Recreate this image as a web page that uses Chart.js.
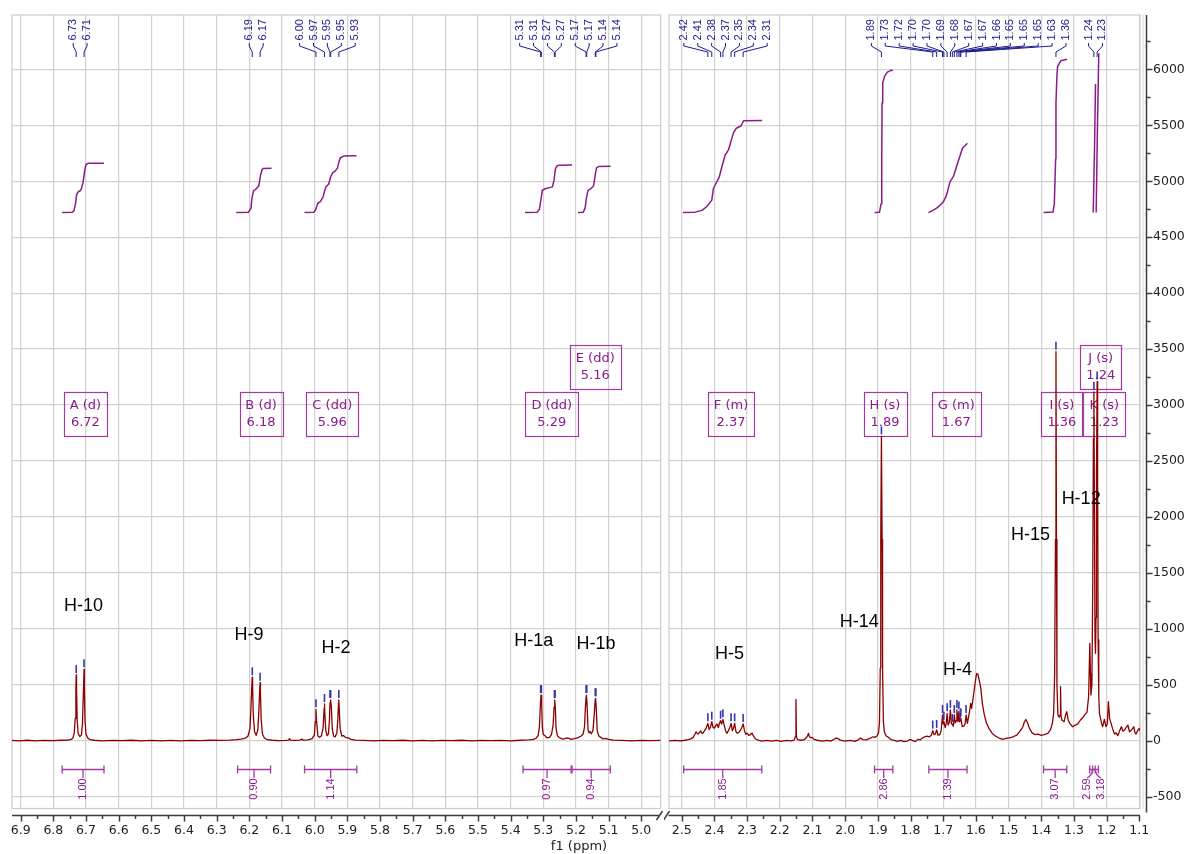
<!DOCTYPE html>
<html>
<head>
<meta charset="utf-8">
<title>1H NMR spectrum</title>
<script src="https://cdn.jsdelivr.net/npm/chart.js@4.4.1/dist/chart.umd.min.js"></script>
<style>
  html, body { margin:0; padding:0; background:#ffffff; }
  #wrap { position:relative; width:1191px; height:854px; overflow:hidden; background:#fff; }
  #cL { position:absolute; left:0; top:0; }
  #cR { position:absolute; left:664px; top:0; }
  #xtitle { position:absolute; left:509px; width:140px; top:838px; text-align:center;
            font:13px 'DejaVu Sans', sans-serif; color:#222; line-height:16px; }
</style>
</head>
<body>
<div id="wrap">
  <canvas id="cL" width="664" height="854"></canvas>
  <canvas id="cR" width="527" height="854"></canvas>
  <div id="xtitle">f1 (ppm)</div>
</div>
<script>
// ---------------- DATA ----------------
const xTicksLeft  = [6.9,6.8,6.7,6.6,6.5,6.4,6.3,6.2,6.1,6.0,5.9,5.8,5.7,5.6,5.5,5.4,5.3,5.2,5.1,5.0];
const xTicksRight = [2.5,2.4,2.3,2.2,2.1,2.0,1.9,1.8,1.7,1.6,1.5,1.4,1.3,1.2,1.1];
const yTickVals   = [-500,0,500,1000,1500,2000,2500,3000,3500,4000,4500,5000,5500,6000];

// spectrum points [ppm, intensity]
const specLeft = [
[6.927,3],[6.905,-2],[6.88,4],[6.855,-1],[6.83,3],[6.80,0],[6.775,4],[6.755,6],[6.745,12],[6.740,25],[6.736,70],[6.733,200],[6.731,470],[6.730,587],[6.729,470],[6.727,180],[6.724,65],[6.719,38],[6.714,52],[6.711,150],[6.708,430],[6.706,638],[6.705,470],[6.703,170],[6.700,60],[6.695,24],[6.687,10],[6.675,4],[6.65,-2],[6.62,3],[6.59,0],[6.56,4],[6.53,-1],[6.50,3],[6.47,-2],[6.44,2],[6.41,-1],[6.38,3],[6.35,0],[6.32,4],[6.29,2],[6.26,6],[6.24,10],[6.225,14],[6.212,22],[6.204,42],[6.198,110],[6.195,300],[6.192,520],[6.191,567],[6.190,490],[6.188,240],[6.184,80],[6.179,48],[6.174,95],[6.171,260],[6.168,470],[6.167,519],[6.166,450],[6.164,200],[6.160,62],[6.154,24],[6.145,9],[6.13,4],[6.11,1],[6.09,3],[6.08,6],[6.077,18],[6.074,5],[6.06,3],[6.045,6],[6.040,14],[6.036,5],[6.02,8],[6.008,18],[6.001,50],[5.998,170],[5.996,280],[5.994,170],[5.990,42],[5.985,30],[5.979,45],[5.974,120],[5.971,290],[5.970,328],[5.969,280],[5.966,90],[5.962,45],[5.958,60],[5.955,170],[5.953,340],[5.951,364],[5.949,300],[5.946,105],[5.942,40],[5.937,35],[5.932,70],[5.929,190],[5.927,340],[5.926,364],[5.925,300],[5.922,110],[5.917,42],[5.912,46],[5.906,30],[5.898,25],[5.888,12],[5.875,6],[5.85,2],[5.82,-2],[5.79,3],[5.76,0],[5.73,4],[5.70,-1],[5.67,2],[5.64,-2],[5.61,3],[5.58,0],[5.55,4],[5.52,-1],[5.49,2],[5.46,0],[5.43,3],[5.40,-1],[5.37,4],[5.345,8],[5.33,12],[5.322,22],[5.316,45],[5.312,120],[5.309,320],[5.307,408],[5.305,330],[5.303,120],[5.300,55],[5.295,45],[5.289,26],[5.281,30],[5.275,55],[5.270,140],[5.267,300],[5.265,364],[5.263,290],[5.261,110],[5.257,45],[5.250,25],[5.240,15],[5.232,20],[5.224,24],[5.215,12],[5.205,18],[5.195,25],[5.185,40],[5.178,60],[5.174,120],[5.171,300],[5.169,390],[5.168,408],[5.166,320],[5.163,95],[5.160,70],[5.157,82],[5.153,62],[5.148,90],[5.144,240],[5.141,370],[5.140,379],[5.138,300],[5.135,90],[5.130,42],[5.124,30],[5.118,16],[5.110,20],[5.100,12],[5.085,5],[5.06,2],[5.03,-2],[5.00,3],[4.97,0],[4.941,2]
];
const specRight = [
[2.539,-2],[2.52,3],[2.505,-2],[2.49,4],[2.48,10],[2.472,16],[2.465,30],[2.460,55],[2.456,80],[2.452,62],[2.449,60],[2.445,78],[2.442,87],[2.439,70],[2.436,66],[2.430,90],[2.425,115],[2.420,155],[2.416,100],[2.412,120],[2.408,170],[2.404,118],[2.400,112],[2.396,135],[2.392,150],[2.388,118],[2.384,160],[2.381,179],[2.378,148],[2.374,191],[2.370,140],[2.366,92],[2.362,66],[2.357,90],[2.353,118],[2.349,155],[2.345,90],[2.342,110],[2.338,155],[2.334,80],[2.330,66],[2.325,75],[2.320,95],[2.316,118],[2.312,150],[2.308,90],[2.304,58],[2.300,68],[2.295,48],[2.290,55],[2.285,68],[2.280,40],[2.274,15],[2.266,6],[2.255,-3],[2.240,3],[2.225,-4],[2.210,2],[2.195,-6],[2.180,3],[2.165,-2],[2.156,5],[2.152,40],[2.1505,370],[2.149,40],[2.146,10],[2.135,4],[2.125,10],[2.118,28],[2.114,50],[2.112,66],[2.109,34],[2.104,26],[2.101,30],[2.095,12],[2.085,4],[2.070,-4],[2.055,2],[2.045,-3],[2.035,10],[2.028,24],[2.022,20],[2.015,5],[2.000,-3],[1.985,2],[1.970,-6],[1.960,8],[1.953,25],[1.947,10],[1.935,8],[1.925,20],[1.915,35],[1.908,30],[1.902,45],[1.898,70],[1.895,160],[1.8925,650],[1.891,1800],[1.889,2720],[1.887,1800],[1.8855,650],[1.883,170],[1.880,80],[1.875,45],[1.868,30],[1.860,10],[1.850,2],[1.840,-6],[1.830,2],[1.820,-8],[1.810,-3],[1.800,12],[1.793,0],[1.785,-8],[1.778,12],[1.770,8],[1.760,30],[1.750,40],[1.742,35],[1.736,50],[1.732,90],[1.728,55],[1.724,60],[1.720,96],[1.716,50],[1.710,55],[1.706,95],[1.702,230],[1.700,150],[1.698,170],[1.694,118],[1.691,150],[1.688,245],[1.685,140],[1.681,170],[1.678,275],[1.675,150],[1.672,150],[1.669,128],[1.666,230],[1.663,160],[1.660,180],[1.658,275],[1.655,170],[1.652,260],[1.650,170],[1.648,185],[1.646,200],[1.642,125],[1.637,130],[1.633,150],[1.630,230],[1.626,155],[1.620,250],[1.616,334],[1.613,290],[1.609,370],[1.603,500],[1.598,600],[1.594,596],[1.589,530],[1.585,470],[1.580,330],[1.575,245],[1.568,160],[1.560,110],[1.550,65],[1.539,40],[1.528,22],[1.518,12],[1.508,20],[1.498,25],[1.486,35],[1.475,50],[1.464,90],[1.457,120],[1.452,165],[1.447,190],[1.442,160],[1.436,110],[1.428,70],[1.420,55],[1.410,58],[1.400,48],[1.391,55],[1.380,65],[1.372,96],[1.366,155],[1.362,250],[1.359,600],[1.3565,1800],[1.355,3477],[1.3535,1800],[1.352,500],[1.349,230],[1.345,210],[1.3425,230],[1.341,483],[1.3395,220],[1.336,180],[1.330,170],[1.3255,230],[1.322,260],[1.318,190],[1.313,155],[1.304,125],[1.296,140],[1.288,150],[1.280,185],[1.272,210],[1.266,235],[1.260,255],[1.255,400],[1.2515,870],[1.2495,600],[1.248,408],[1.245,500],[1.2425,1400],[1.2405,2700],[1.239,3118],[1.2375,2200],[1.2355,900],[1.234,781],[1.2325,1100],[1.231,2400],[1.229,3210],[1.2275,2300],[1.226,900],[1.224,400],[1.222,245],[1.218,190],[1.215,150],[1.212,125],[1.207,190],[1.202,125],[1.198,150],[1.1945,349],[1.191,200],[1.188,170],[1.182,110],[1.176,60],[1.171,70],[1.166,45],[1.160,90],[1.155,125],[1.150,85],[1.145,96],[1.140,120],[1.135,140],[1.130,80],[1.124,96],[1.120,110],[1.117,125],[1.113,70],[1.110,60],[1.105,90],[1.100,110],[1.096,80]
];

// integral curves [ppm, value]
const intA = [[6.773,4720],[6.743,4722],[6.737,4735],[6.732,4800],[6.729,4880],[6.724,4905],[6.718,4915],[6.714,4935],[6.709,4990],[6.704,5100],[6.700,5150],[6.694,5160],[6.645,5162]];
const intB = [[6.240,4720],[6.203,4722],[6.195,4760],[6.192,4850],[6.187,4915],[6.178,4935],[6.171,4960],[6.166,5050],[6.161,5105],[6.157,5115],[6.132,5117]];
const intC = [[6.031,4720],[6.003,4722],[5.997,4745],[5.991,4800],[5.982,4820],[5.974,4860],[5.970,4910],[5.965,4950],[5.957,4975],[5.951,5040],[5.945,5075],[5.936,5095],[5.930,5120],[5.925,5180],[5.921,5210],[5.911,5225],[5.872,5227]];
const intD = [[5.356,4720],[5.319,4722],[5.312,4750],[5.307,4840],[5.303,4920],[5.292,4935],[5.272,4950],[5.267,5010],[5.263,5110],[5.258,5138],[5.252,5143],[5.212,5145]];
const intE = [[5.194,4720],[5.178,4722],[5.172,4760],[5.168,4850],[5.163,4918],[5.154,4935],[5.146,4960],[5.141,5060],[5.137,5120],[5.131,5132],[5.094,5134]];
const intF = [[2.496,4720],[2.459,4724],[2.438,4740],[2.425,4770],[2.416,4800],[2.408,4831],[2.403,4935],[2.395,4982],[2.385,5040],[2.377,5130],[2.367,5235],[2.357,5280],[2.342,5430],[2.333,5474],[2.319,5494],[2.311,5540],[2.254,5542]];
const intH = [[1.910,4720],[1.895,4722],[1.890,4800],[1.888,5200],[1.887,5700],[1.885,5880],[1.879,5940],[1.871,5975],[1.861,5989],[1.854,5992]];
const intG = [[1.745,4720],[1.732,4740],[1.720,4760],[1.708,4790],[1.699,4820],[1.692,4860],[1.687,4907],[1.679,4997],[1.669,5041],[1.656,5161],[1.641,5295],[1.626,5340]];
const intI = [[1.393,4720],[1.364,4725],[1.360,4800],[1.356,5200],[1.355,5700],[1.352,5950],[1.350,6024],[1.340,6078],[1.321,6090]];
const intJ = [[1.241,4720],[1.237,5300],[1.234,5870]];
const intK = [[1.232,4720],[1.228,5500],[1.224,6144]];

// integration regions (bottom bars)
const intRegStart = [6.773,6.236,6.031,5.362,5.212,2.494,1.910,1.744,1.393,1.252,1.243];
const intRegEnd   = [6.645,6.135,5.871,5.215,5.095,2.255,1.854,1.627,1.322,1.235,1.225];
const intRegValue = ["1.00","0.90","1.14","0.97","0.94","1.85","2.86","1.39","3.07","2.59","3.18"];

// multiplet boxes
const boxName  = ["A (d)","B (d)","C (dd)","D (dd)","E (dd)","F (m)","H (s)","G (m)","I (s)","J (s)","K (s)"];
const boxShift = ["6.72","6.18","5.96","5.29","5.16","2.37","1.89","1.67","1.36","1.24","1.23"];
const boxPpm   = [6.702,6.164,5.946,5.274,5.141,2.349,1.878,1.660,1.337,1.218,1.207];
const boxLevel = [2920,2920,2920,2920,3340,2920,2920,2920,2920,3340,2920];

// proton assignments
const hName  = ["H-10","H-9","H-2","H-1a","H-1b","H-5","H-14","H-4","H-15","H-12"];
const hPpm   = [6.708,6.201,5.935,5.329,5.139,2.354,1.957,1.656,1.433,1.278];
const hLevel = [1204,945,829,891,864,775,1061,636,1838,2160];

// peak picking
const pkLabel  = ["6.73","6.71","6.19","6.17","6.00","5.97","5.95","5.95","5.93","5.31","5.31","5.27","5.27","5.17","5.17","5.14","5.14","2.42","2.41","2.38","2.37","2.35","2.34","2.31","1.89","1.73","1.72","1.70","1.70","1.69","1.68","1.67","1.67","1.66","1.65","1.65","1.65","1.63","1.36","1.24","1.23"];
const pkPpm    = [6.730,6.706,6.191,6.167,5.996,5.970,5.953,5.951,5.926,5.308,5.306,5.266,5.264,5.169,5.167,5.141,5.139,2.420,2.408,2.381,2.374,2.349,2.338,2.312,1.889,1.732,1.720,1.702,1.698,1.688,1.678,1.672,1.666,1.658,1.652,1.648,1.646,1.630,1.355,1.239,1.229];
const pkHeight = [587,638,567,519,280,328,364,364,364,408,408,364,364,408,408,379,379,155,170,179,191,155,155,150,2720,90,96,230,170,245,275,150,230,275,260,185,200,230,3477,3118,3210];
const pkGroup  = [0,0,1,1,2,2,2,2,2,3,3,3,3,3,3,3,3,4,4,4,4,4,4,4,5,5,5,5,5,5,5,5,5,5,5,5,5,5,5,6,6];

// ---------------- STYLE / LAYOUT ----------------
const FONT = "'DejaVu Sans', sans-serif";
const GRID = '#d2d2d2';
const SPEC = '#8b0000';
const INTC = '#8b1a8b';
const BOXC = '#a23aa2';
const LBLC = '#1c1c8e';
const Y_MIN = -606, Y_MAX = 6486;
const BAR_LEVEL = -256;
const LABEL_GAP = 13.9;

const inX = (s, v) => v >= Math.min(s.min, s.max) && v <= Math.max(s.min, s.max);

const decor = {
  id: 'decor',
  beforeDatasetsDraw(chart, _a, opts) {
    const { ctx, chartArea: a, scales: { x, y } } = chart;
    ctx.save();
    ctx.strokeStyle = '#cccccc'; ctx.lineWidth = 1.2;
    ctx.strokeRect(a.left, a.top, a.right - a.left, a.bottom - a.top);
    if (opts.side === 'R') {
      ctx.strokeStyle = '#dddddd';
      ctx.beginPath(); ctx.moveTo(a.right + 3, a.top); ctx.lineTo(a.right + 3, a.bottom); ctx.stroke();
    }
    // multiplet boxes (drawn under the spectrum)
    ctx.font = "13px " + FONT; ctx.textAlign = 'center'; ctx.textBaseline = 'middle';
    boxName.forEach((nm, i) => {
      if (!inX(x, boxPpm[i])) return;
      const cx = x.getPixelForValue(boxPpm[i]), cy = y.getPixelForValue(boxLevel[i]);
      const w = Math.round(Math.max(ctx.measureText(nm).width, ctx.measureText(boxShift[i]).width) + 12);
      const h = 44;
      ctx.strokeStyle = BOXC; ctx.lineWidth = 1.2;
      ctx.strokeRect(Math.round(cx - w / 2) + 0.5, Math.round(cy - h / 2) + 0.5, w, h);
      ctx.fillStyle = INTC;
      ctx.fillText(nm, cx, cy - 8.3);
      ctx.fillText(boxShift[i], cx, cy + 8.3);
    });
    ctx.restore();
  },
  afterDatasetsDraw(chart, _a, opts) {
    const { ctx, chartArea: a, scales: { x, y } } = chart;
    ctx.save();
    // peak markers
    ctx.strokeStyle = '#3535b0'; ctx.lineWidth = 1.6;
    pkPpm.forEach((p, i) => {
      if (!inX(x, p)) return;
      const px = x.getPixelForValue(p), py = y.getPixelForValue(pkHeight[i]);
      ctx.beginPath(); ctx.moveTo(px, py - 2); ctx.lineTo(px, py - 10); ctx.stroke();
    });
    // peak labels with leaders
    const groups = {};
    pkPpm.forEach((p, i) => { if (inX(x, p)) (groups[pkGroup[i]] = groups[pkGroup[i]] || []).push(i); });
    ctx.font = "11px 'Liberation Sans', Arial, sans-serif";
    ctx.fillStyle = LBLC; ctx.strokeStyle = LBLC; ctx.lineWidth = 1;
    Object.values(groups).forEach(idx => {
      const pxs = idx.map(i => x.getPixelForValue(pkPpm[i]));
      const mid = (Math.min(...pxs) + Math.max(...pxs)) / 2;
      const n = idx.length;
      idx.forEach((i, k) => {
        const lx = mid + (k - (n - 1) / 2) * LABEL_GAP, px = pxs[k];
        ctx.beginPath();
        ctx.moveTo(lx, a.top + 28); ctx.lineTo(lx, a.top + 31);
        ctx.lineTo(px, a.top + 37); ctx.lineTo(px, a.top + 42);
        ctx.stroke();
        ctx.save();
        ctx.translate(lx, a.top + 25.5); ctx.rotate(-Math.PI / 2);
        ctx.textAlign = 'left'; ctx.textBaseline = 'middle';
        ctx.fillText(pkLabel[i], 0, 0);
        ctx.restore();
      });
    });
    // assignment labels
    ctx.font = "18px 'Liberation Sans', Arial, sans-serif";
    ctx.fillStyle = '#000'; ctx.textAlign = 'center'; ctx.textBaseline = 'middle';
    hName.forEach((t, i) => {
      if (!inX(x, hPpm[i])) return;
      ctx.fillText(t, x.getPixelForValue(hPpm[i]), y.getPixelForValue(hLevel[i]));
    });
    // integration bars
    const yb = Math.round(y.getPixelForValue(BAR_LEVEL)) + 0.5;
    const items = [];
    intRegStart.forEach((s, i) => {
      if (!inX(x, s)) return;
      const x1 = x.getPixelForValue(s), x2 = x.getPixelForValue(intRegEnd[i]);
      items.push({ i, x1, x2, c: (x1 + x2) / 2 });
    });
    items.sort((p, q) => p.c - q.c);
    const clusters = [];
    items.forEach(it => {
      const last = clusters[clusters.length - 1];
      if (last && it.c - last[last.length - 1].c < 14) last.push(it); else clusters.push([it]);
    });
    clusters.forEach(cl => {
      const m = (cl[0].c + cl[cl.length - 1].c) / 2;
      cl.forEach((it, k) => { it.lx = cl.length > 1 ? m + (k - (cl.length - 1) / 2) * 14 : it.c; });
    });
    ctx.strokeStyle = BOXC; ctx.fillStyle = INTC; ctx.lineWidth = 1.3;
    ctx.font = "11px 'Liberation Sans', Arial, sans-serif";
    items.forEach(it => {
      ctx.beginPath();
      ctx.moveTo(it.x1, yb); ctx.lineTo(it.x2, yb);
      ctx.moveTo(it.x1, yb - 4); ctx.lineTo(it.x1, yb + 4);
      ctx.moveTo(it.x2, yb - 4); ctx.lineTo(it.x2, yb + 4);
      ctx.moveTo(it.c, yb);
      if (Math.abs(it.lx - it.c) < 0.5) ctx.lineTo(it.c, yb + 8.5);
      else ctx.quadraticCurveTo(it.c, yb + 6, it.lx, yb + 8.5);
      ctx.stroke();
      ctx.save();
      ctx.translate(it.lx, yb + 19.5); ctx.rotate(-Math.PI / 2);
      ctx.textAlign = 'center'; ctx.textBaseline = 'middle';
      ctx.fillText(intRegValue[it.i], 0, 0);
      ctx.restore();
    });
    ctx.restore();
  },
  afterDraw(chart, _a, opts) {
    const { ctx, chartArea: a, scales: { x, y } } = chart;
    const ticks = opts.side === 'L' ? xTicksLeft : xTicksRight;
    ctx.save();
    ctx.strokeStyle = '#3c3c3c'; ctx.lineWidth = 1.5;
    const yA = Math.round(a.bottom + 6) + 0.5;
    ctx.beginPath();
    if (opts.side === 'L') { ctx.moveTo(a.left, yA); ctx.lineTo(a.right - 1.5, yA); }
    else { ctx.moveTo(a.left - 0.5, yA); ctx.lineTo(a.right, yA); }
    ticks.forEach((v, k) => {
      const px = Math.round(x.getPixelForValue(v)) + 0.5;
      ctx.moveTo(px, yA); ctx.lineTo(px, yA + 6);
      if (k < ticks.length - 1) {
        const pm = Math.round(x.getPixelForValue((v + ticks[k + 1]) / 2)) + 0.5;
        ctx.moveTo(pm, yA); ctx.lineTo(pm, yA + 3.5);
      }
    });
    // axis break marks
    if (opts.side === 'L') { ctx.moveTo(a.right - 4.2, yA + 4.5); ctx.lineTo(a.right + 1.8, yA - 4.5); }
    else { ctx.moveTo(a.left - 5.5, yA + 4.5); ctx.lineTo(a.left + 0.5, yA - 4.5); }
    ctx.stroke();
    if (opts.side === 'R') {
      const xA = Math.round(a.right + 6) + 0.5;
      ctx.beginPath();
      ctx.moveTo(xA, a.top); ctx.lineTo(xA, a.bottom + 4);
      yTickVals.forEach((v, k) => {
        const py = Math.round(y.getPixelForValue(v)) + 0.5;
        ctx.moveTo(xA, py); ctx.lineTo(xA + 6, py);
        const step = k < yTickVals.length - 1 ? yTickVals[k + 1] - v : yTickVals[1] - yTickVals[0];
        const mv = v + step / 2;
        if (mv <= Y_MAX) { const pm = Math.round(y.getPixelForValue(mv)) + 0.5; ctx.moveTo(xA, pm); ctx.lineTo(xA + 4, pm); }
      });
      ctx.stroke();
    }
    ctx.restore();
  }
};

const toXY = arr => arr.map(([px, py]) => ({ x: px, y: py }));
const lineDs = (arr, color, w) => ({ data: toXY(arr), borderColor: color, borderWidth: w, pointRadius: 0, fill: false });

function makeChart(id, side, xmin, xmax, xticks, datasets, padding) {
  const isR = side === 'R';
  return new Chart(document.getElementById(id), {
    type: 'line',
    data: { datasets },
    options: {
      responsive: false, animation: false, events: [],
      layout: { padding },
      plugins: { legend: { display: false }, tooltip: { enabled: false }, decor: { side } },
      elements: { point: { radius: 0 }, line: { tension: 0, borderJoinStyle: 'round' } },
      scales: {
        x: {
          type: 'linear', reverse: true, min: xmin, max: xmax,
          afterBuildTicks: s => { s.ticks = xticks.map(v => ({ value: v })); },
          afterFit: s => { s.height = 45.5; },
          grid: { color: GRID, lineWidth: 1.2, drawTicks: true, tickLength: 15, tickColor: 'rgba(0,0,0,0)' },
          border: { display: false },
          ticks: { autoSkip: false, maxRotation: 0, padding: 0, color: '#222',
                   font: { size: 12.5, family: FONT }, callback: v => Number(v).toFixed(1) }
        },
        y: {
          type: 'linear', position: isR ? 'right' : 'left', min: Y_MIN, max: Y_MAX,
          afterBuildTicks: s => { s.ticks = yTickVals.map(v => ({ value: v })); },
          afterFit: s => { s.width = isR ? 51 : 0; },
          grid: { color: GRID, lineWidth: 1.2, drawTicks: isR, tickLength: 13, tickColor: 'rgba(0,0,0,0)' },
          border: { display: false },
          ticks: { display: isR, padding: 0, color: '#222',
                   font: { size: 12.5, family: FONT }, callback: v => String(v) }
        }
      }
    },
    plugins: [decor]
  });
}

const chartL = makeChart('cL', 'L', 4.9406, 6.9266, xTicksLeft, [
  lineDs(specLeft, SPEC, 1.3),
  lineDs(intA, INTC, 1.5), lineDs(intB, INTC, 1.5), lineDs(intC, INTC, 1.5),
  lineDs(intD, INTC, 1.5), lineDs(intE, INTC, 1.5)
], { left: 12, right: 3.3, top: 15, bottom: 0 });
const chartR = makeChart('cR', 'R', 1.0979, 2.5389, xTicksRight, [
  lineDs(specRight, SPEC, 1.3),
  lineDs(intF, INTC, 1.5), lineDs(intH, INTC, 1.5), lineDs(intG, INTC, 1.5),
  lineDs(intI, INTC, 1.5), lineDs(intJ, INTC, 1.5), lineDs(intK, INTC, 1.5)
], { left: 5, right: 0, top: 15, bottom: 0 });
</script>
</body>
</html>
